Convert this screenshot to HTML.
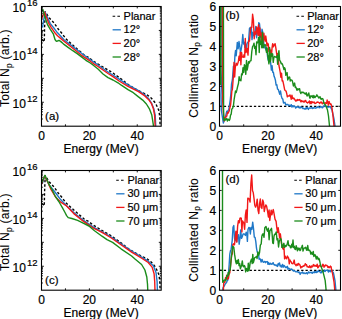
<!DOCTYPE html>
<html><head><meta charset="utf-8"><style>
html,body{margin:0;padding:0;background:#fff;}
body{width:342px;height:319px;overflow:hidden;font-family:"Liberation Sans",sans-serif;}
svg{position:absolute;left:0;top:0;display:block;}
</style></head><body>
<svg width="342" height="319" viewBox="0 0 342 319">
<defs>
<clipPath id="ca"><rect x="41.5" y="6.5" width="119.69999999999999" height="119.7"/></clipPath>
<clipPath id="cb"><rect x="219.5" y="6.5" width="121.0" height="119.7"/></clipPath>
<clipPath id="cc"><rect x="41.5" y="170.5" width="119.69999999999999" height="119.69999999999999"/></clipPath>
<clipPath id="cd"><rect x="219.5" y="170.5" width="121.0" height="119.69999999999999"/></clipPath>
</defs>
<polyline points="42,39.4 44.3,41.9 44.5,30 45.2,11.8 49.4,18 54.1,23 58.4,29.3 61.6,33 65.8,38.6 71,43.5 77.2,49 84.2,55 89.4,58 93,61 98,64 103,67 108,70 113,73 117.1,76 121.3,79 129,85.2 134.3,88.4 140.6,91.7 147,94.8 151.2,98 155.4,103 157.6,107.5 158.8,110.5 159.7,116 160.1,125.2 160.2,140" fill="none" stroke="#000" stroke-width="1.4" stroke-linejoin="round" stroke-dasharray="2.5,2.0" clip-path="url(#ca)"/>
<polyline points="42.5,27.6 45,12 47.5,17.4 50.3,23.6 54.5,28.8 57.5,32.8 60.6,36 64,39.8 72.8,46.6 81.5,53.2 90.3,59.7 98,65 108,72 118.1,78.4 121.3,80.6 128,84.9 138.5,90.6 144.8,94.8 149,99 151.5,103 153.8,108.8 155.2,115.1 155.7,125.2 155.8,140" fill="none" stroke="#1f78c8" stroke-width="1.4" stroke-linejoin="round" clip-path="url(#ca)"/>
<polyline points="41.9,18.2 44.2,12.6 44.7,12.2 46.6,17.4 48.5,22.8 51.3,27.6 55.3,33.3 57.5,35.8 60.6,38.4 64,41.3 72.8,48.3 81.5,55.3 90.3,61.2 93,63.3 98,66.5 103,70 108,73.5 113,76.6 119.1,81 128,86.4 138.5,91.7 144.8,95.9 149,100.1 151.3,103.3 153.4,108.8 154.6,115.1 155.1,125.2 155.2,140" fill="none" stroke="#f21818" stroke-width="1.4" stroke-linejoin="round" clip-path="url(#ca)"/>
<polyline points="41.9,10.8 42.9,9.6 44.2,14.2 45.6,19 47.5,24.6 50.3,29.4 53.3,33.8 55,39.5 56.2,41.2 57.5,41 59,40.4 60.6,41.4 62,42.6 64,44.4 68.4,47.6 72.8,50.7 77.2,53.6 81.5,56.9 85.9,60.3 90.3,63 93,65 98,69 103,74 108,77.6 113,80 118,82.8 121.3,85.2 128,89.6 133.3,92.7 138.5,96.9 142.7,100.1 146.4,104 149.4,108.8 151.8,115.1 153.4,125.2 153.5,140" fill="none" stroke="#1b8c1b" stroke-width="1.4" stroke-linejoin="round" clip-path="url(#ca)"/>
<polyline points="42,203.4 44.3,205.9 44.5,194 45.2,175.8 49.4,182 54.1,187 58.4,193.3 61.6,197 65.8,202.6 71,207.5 77.2,213 84.2,219 89.4,222 93,225 98,228 103,231 108,234 113,237 117.1,240 121.3,243 129,249.2 134.3,252.4 140.6,255.7 147,258.8 151.2,262 155.4,267 157.6,271.5 158.8,274.5 159.7,280 160.1,289.2 160.2,304" fill="none" stroke="#000" stroke-width="1.4" stroke-linejoin="round" stroke-dasharray="2.5,2.0" clip-path="url(#cc)"/>
<polyline points="42.3,183.5 44.7,176.2 47.2,181 49.4,185.2 55.7,193 60.6,199.6 66.3,205.6 73.8,212.6 83.2,220.2 92.6,226.6 102,231.9 111.4,237 121,243.9 131.6,251 142.1,257.4 148.2,261.2 153.4,265.8 156,272.4 157.1,281.6 157.4,291 157.5,300" fill="none" stroke="#1f78c8" stroke-width="1.4" stroke-linejoin="round" clip-path="url(#cc)"/>
<polyline points="41.5,184.3 44.6,176 47.2,180.8 51,189.5 55.7,197.2 60.4,201.8 66.6,206 73.8,213.6 83.2,221.2 92.6,227.6 102,232.4 111.4,238 121,244.8 131.6,252.1 142.1,258.5 148.2,262.5 152.1,267.1 154.1,273.7 154.7,281.6 155,291 155.1,300" fill="none" stroke="#f21818" stroke-width="1.4" stroke-linejoin="round" clip-path="url(#cc)"/>
<polyline points="41.8,182.4 45,175.3 47.2,180.5 49.3,184.9 52,189.5 55,195.8 58.8,201.5 62.5,207.8 65,212.5 66.6,215.6 68.2,217.6 71.9,218.5 77.6,220.4 83.2,223.2 88.9,226 94.5,230.7 102,236.2 107,239.6 112.6,242.4 121,248.8 131.6,256 135,259 141.6,264.5 144.9,270 146.8,277 147.5,284 147.8,291 147.9,300" fill="none" stroke="#1b8c1b" stroke-width="1.4" stroke-linejoin="round" clip-path="url(#cc)"/>
<line x1="219.5" y1="106.3" x2="340.5" y2="106.3" stroke="#000" stroke-width="1.3" stroke-dasharray="2.3,2.0"/>
<polyline points="221.9,-5 222,70 221,95 221.3,110 222,114.49 222.7,119.03 223.4,123.02 224.08,120.58 224.76,118.21 225.44,117.03 226.12,113.9 226.8,111.2 227.43,111.89 228.07,110.42 228.7,109.82 229.6,104.29 230.23,100.01 230.87,93.85 231.5,84.24 232.4,79.68 233.4,66.2 234.3,67.95 234.93,55.35 235.57,50.35 236.2,55.7 237.3,42.37 238.15,48.75 239,41.49 239.75,46.25 240.5,52.54 241.25,49.04 242,43.88 242.8,34.56 243.6,44.06 244.23,42.2 244.87,47.29 245.5,44.49 246.25,50.64 247,43.68 247.75,42.2 248.5,41.75 249.5,28.24 250.7,27.19 251.35,27.82 252,39.67 253,32.29 253.67,35.65 254.33,35.61 255,31.77 255.8,26.47 256.6,37.72 257.3,29.97 258,33.14 258.75,22.61 259.5,23.63 260.5,33.5 261.25,37.76 262,29.3 262.65,31.67 263.3,39.81 264.5,47.73 265.25,47.6 266,50.14 266.75,47.79 267.5,56.2 268.2,60.14 268.9,57.24 269.55,55.32 270.2,58.63 271.4,70.09 272.07,65.64 272.73,72.3 273.4,72.32 274.08,76.31 274.76,77.89 275.44,80.29 276.12,85.08 276.8,84.69 277.53,89.1 278.27,89.4 279,91.78 279.77,94.2 280.53,91.05 281.3,95.95 282.03,98.35 282.77,99 283.5,102.96 284.27,102.92 285.03,102.32 285.8,105.14 286.53,104.33 287.27,104.44 288,104.49 288.66,105.77 289.31,105.19 289.97,105.35 290.63,105.89 291.29,104.69 291.94,106.94 292.6,105.73 293.21,106.78 293.82,105.91 294.43,106.12 295.04,106.59 295.65,108.13 296.25,107.49 296.86,106.79 297.47,107.1 298.08,106.66 298.69,107.47 299.3,107.24 299.91,108.13 300.52,106.92 301.13,107.64 301.74,107.4 302.35,107.56 302.95,108.54 303.56,108.25 304.17,108.62 304.78,109.08 305.39,109.14 306,107.64 306.6,108.78 307.2,107.28 307.8,108.28 308.4,109.46 309,108.08 309.6,107.91 310.2,108.19 310.8,108.03 311.4,107.98 312,107.43 312.6,108.52 313.2,108.34 313.8,107.59 314.4,107.86 315,108.01 315.6,108.18 316.2,107.71 316.8,107.83 317.4,107.17 318,106.6 318.6,106.89 319.2,107.77 319.8,107.68 320.4,107.09 321,106.58 321.6,107.06 322.2,107.84 322.8,107.58 323.4,106.24 324,106.57 324.62,105.69 325.25,105.88 325.88,106.63 326.5,106.51 327.12,107 327.75,107.12 328.38,106.86 329,107.06 329.75,106.56 330.5,106.78 331.25,108.69 332,110 332.67,113 333.33,116 334,119 335,126 335.3,140" fill="none" stroke="#1f78c8" stroke-width="1.4" stroke-linejoin="round" clip-path="url(#cb)"/>
<polyline points="222.3,-5 222.6,100 223.3,112 224.3,120.96 224.93,117.86 225.55,117.62 226.18,116.29 226.8,116.04 227.43,112.43 228.05,113.15 228.68,111.91 229.3,110.59 229.95,107.45 230.6,104.72 231.2,99.22 231.8,91.36 232.4,89.32 233.4,75.95 234.03,62.34 234.67,76.96 235.3,67.29 236.2,63.25 237.1,65.17 237.73,63.67 238.37,61.56 239,56.26 239.63,60.34 240.27,52.27 240.9,64.82 241.53,52.46 242.17,56.6 242.8,57.08 243.42,57.29 244.03,54.59 244.65,57.11 245.27,38.43 245.88,52.64 246.5,51.73 247.25,48.53 248,55.13 248.75,40.66 249.5,41.07 250.7,27.87 251.8,27.36 252.6,14.3 253.4,19.73 254.2,38.79 254.8,33.19 255.4,31.72 256,34.17 256.67,27.07 257.33,28.78 258,35.29 258.62,24.82 259.25,36.12 259.88,27.99 260.5,36.96 261.25,33 262,47.2 262.62,44.68 263.25,38.63 263.88,33.29 264.5,38.94 265.13,41.17 265.77,36.02 266.4,40.68 267,45.82 267.6,43.18 268.25,44.17 268.9,51.48 269.53,48.38 270.17,53.74 270.8,50.29 271.43,56.41 272.05,47.95 272.68,43.72 273.3,46.88 274.5,44.4 275.15,43.83 275.8,47.53 277,55.97 277.7,53.73 278.9,65.46 279.55,68.62 280.2,72.13 280.86,77.25 281.52,73.18 282.18,81.04 282.84,80.78 283.5,83.87 284.7,89.95 285.36,90.56 286.02,91.03 286.68,93.43 287.34,96.9 288,95.93 288.66,96.02 289.31,95.98 289.97,94.91 290.63,96.84 291.29,99.21 291.94,95.18 292.6,98.32 293.2,98.77 293.8,98.08 294.4,98.93 295,99.87 295.6,101.05 296.2,100.18 296.8,100.8 297.4,99.5 298,100.28 298.6,99.78 299.2,100.14 299.8,99.55 300.4,100.99 301,102 301.6,100.58 302.2,101.11 302.8,101.6 303.4,101.12 304,102.15 304.6,101.6 305.2,100.35 305.8,100.61 306.4,102.4 307,102.43 307.6,102.98 308.2,102.31 308.8,102.39 309.4,100.9 310,103.69 310.6,101.75 311.21,103.5 311.81,101.59 312.42,102.02 313.03,102.76 313.63,102.26 314.24,102.03 314.85,103.46 315.45,103.28 316.06,103.04 316.67,102.41 317.27,101.99 317.88,102.32 318.49,102.29 319.09,102.74 319.7,103.46 320.32,102.61 320.94,102.04 321.56,102.18 322.18,103.83 322.8,102.83 323.42,102.87 324.04,102.89 324.66,103.15 325.28,102.73 325.9,103.62 326.52,103.28 327.14,100.06 327.76,102.41 328.38,105.11 329,101.36 329.67,103.09 330.33,104.26 331,104 332,108 333,116 334,126 334.3,140" fill="none" stroke="#f21818" stroke-width="1.4" stroke-linejoin="round" clip-path="url(#cb)"/>
<polyline points="220.7,85 220.7,-5 221.38,-5 222.05,-5 222.72,-5 223.4,-5 223.6,110 223.8,120.04 224.4,120.39 225,118.94 225.6,120.02 226.2,118.81 226.8,118.54 227.43,120.99 228.05,119.33 228.68,119.27 229.3,120.41 229.93,118.96 230.55,115.2 231.18,114.14 231.8,109.17 232.6,108.2 233.4,105.9 234.1,99.73 234.8,95.27 235.5,90.92 236.17,92.59 236.83,90.13 237.5,87 238.5,83.26 239.1,76.74 239.7,80.2 240.3,80.14 240.9,80.82 241.6,73.93 242.3,74.7 243,67.74 243.7,72.51 244.4,64.76 245.1,66.28 245.8,74.33 246.5,60.54 247.2,69.97 247.9,66.23 248.6,61.63 249.3,63.01 250.15,60.81 251,60.57 251.8,51.49 252.6,46.41 253.3,45.6 254,43.18 254.67,48.38 255.33,46.52 256,54.71 256.67,41.89 257.33,43 258,41.73 258.62,37.45 259.25,52.43 259.88,36.27 260.5,44.24 261.17,41.46 261.83,47.78 262.5,32.25 263.25,47.87 264,45.26 265,44.72 265.7,45.03 266.4,52.2 267.03,48.1 267.67,54.64 268.3,58.83 268.93,63.9 269.57,47.48 270.2,61.72 270.8,59.22 271.4,53.52 272,56.14 272.62,53.83 273.25,62.33 273.88,57.51 274.5,56.49 275.12,56.73 275.75,57.1 276.38,57.45 277,55.78 277.65,64.31 278.3,54.33 278.95,50.69 279.6,60.19 280.4,61.31 281.2,63.7 282,63.54 282.65,64.83 283.3,67.01 283.95,69.45 284.6,67.7 285.23,69.34 285.85,75.31 286.48,74.04 287.1,72.65 287.74,80 288.38,78.32 289.02,77.04 289.66,77.22 290.3,81.02 290.92,79.77 291.54,80.11 292.15,80.43 292.77,82.51 293.39,85.97 294.01,84.08 294.63,83.11 295.25,87.36 295.86,87.07 296.48,89.06 297.1,90.35 297.72,88.64 298.34,89.19 298.95,89.85 299.57,88.64 300.19,91.99 300.81,93.59 301.43,92.23 302.05,92.11 302.66,92.59 303.28,92.31 303.9,92.79 304.51,93.68 305.12,93.3 305.73,94.18 306.34,92.8 306.95,95.87 307.55,95.71 308.16,94.27 308.77,92.94 309.38,96.44 309.99,98.26 310.6,95.99 311.23,96.24 311.86,96.02 312.49,97.6 313.11,95.34 313.74,97.86 314.37,95.98 315,97.57 315.62,96.49 316.25,96.29 316.88,94.79 317.5,96 318.12,96.71 318.75,98.05 319.38,97.66 320,96.63 320.6,98.39 321.2,99.44 321.8,98.54 322.4,98.64 323,99.11 324,103.51 324.67,104.22 325.33,104.81 326,106 326.75,108 327.5,110 328.5,116 329.5,126 329.8,140" fill="none" stroke="#1b8c1b" stroke-width="1.4" stroke-linejoin="round" clip-path="url(#cb)"/>
<line x1="219.5" y1="270.3" x2="340.5" y2="270.3" stroke="#000" stroke-width="1.3" stroke-dasharray="2.3,2.0"/>
<polyline points="222.6,300 222.9,288 223.67,286.74 224.43,285.66 225.2,283.91 225.87,283.19 226.53,282.56 227.2,280.81 227.85,280.09 228.5,273.34 229.2,264.17 229.8,254.24 230.45,250.8 231.1,249.43 232.2,240.69 233,227.31 233.8,225.59 234.5,238.38 235.2,240.77 236,232.02 236.8,241.89 237.6,236.27 238.4,234.74 239.15,244.21 239.9,239.02 240.7,229.96 241.5,238.36 242.3,236.72 243.1,233.86 243.85,233.97 244.6,234.26 245.4,235.4 246.2,232.13 246.8,233.98 247.4,241.37 248,229.5 248.8,227.47 249.6,227.91 250.35,233.95 251.1,227.35 251.9,229.38 252.7,222.09 253.5,228.28 254.3,237.1 255.05,237.48 255.8,241.67 256.5,248.05 257.2,251.83 257.9,253.28 258.5,253.98 259.1,259.19 259.7,258.69 260.3,259.06 261.15,262.15 262,259.35 262.7,261.29 263.4,262.31 264.1,261.74 264.8,261.38 265.43,262.68 266.07,261.77 266.7,261.87 267.33,261.56 267.97,264.33 268.6,262.44 269.23,264.41 269.87,263.74 270.5,263.24 271.15,264.27 271.79,263.98 272.44,263.95 273.08,262.61 273.73,264.11 274.38,264.99 275.02,264.71 275.67,265.28 276.32,265.83 276.96,264.95 277.61,266.45 278.25,263.45 278.9,264.69 279.51,262.91 280.11,266 280.72,265.58 281.33,267.12 281.94,265.6 282.54,264.44 283.15,267.34 283.76,265.42 284.36,265.69 284.97,266.76 285.58,267.59 286.19,266.91 286.79,267.64 287.4,266.29 288.01,269.25 288.61,268.19 289.22,268.6 289.83,269.2 290.44,269.18 291.04,269.47 291.65,268.96 292.26,269.79 292.86,270.44 293.47,271.1 294.08,270.61 294.69,271.02 295.29,271.44 295.9,271.86 296.5,271.74 297.1,271.56 297.7,271.5 298.3,272.63 298.9,272.22 299.5,272.16 300.1,274.42 300.7,272.91 301.3,273 301.9,272.67 302.5,272.04 303.1,273.5 303.7,272.84 304.3,273.03 304.91,273.57 305.51,273.49 306.12,272.94 306.73,272.73 307.34,273.95 307.94,272.93 308.55,271.86 309.16,272.9 309.76,272.45 310.37,272.31 310.98,272.64 311.59,272.29 312.19,273.32 312.8,272.13 313.41,272.13 314.01,272.67 314.62,271.56 315.23,272.52 315.84,271.82 316.44,272.57 317.05,271.27 317.66,272.03 318.26,270.74 318.87,271.44 319.48,271.7 320.09,271.97 320.69,272.86 321.3,272.75 321.95,270.68 322.59,270.96 323.24,272.13 323.88,271.54 324.53,270.32 325.18,271.4 325.82,270.3 326.47,270.39 327.12,270.05 327.76,270.59 328.41,272.07 329.05,270.82 329.7,270.43 330.3,271.79 330.9,270.16 331.5,270.24 332.13,271 332.77,271.89 333.4,272.6 334.2,276.65 335,280.7 335.8,289 336,300" fill="none" stroke="#1f78c8" stroke-width="1.4" stroke-linejoin="round" clip-path="url(#cd)"/>
<polyline points="223,300 223.7,283.26 224.3,281.88 224.9,282.18 225.5,277.82 226.1,278.92 226.7,275.15 227.3,279.27 227.9,277.12 228.5,278.54 229.15,272.9 229.8,273 231,261.11 231.63,255.27 232.27,253.98 232.9,244.49 233.7,243.7 234.5,244.78 235.25,237.71 236,231.19 236.8,242.07 237.6,226.33 238.4,220.7 239.2,222.9 239.95,218.06 240.7,217.83 241.3,218.28 241.9,231.89 242.5,220.88 243.1,221.99 243.87,223.23 244.63,229.21 245.4,215.04 246.2,209.84 247,222.37 247.8,198.16 248.6,198.39 249.35,199.46 250.1,202.06 250.9,183.63 251.7,174.97 252.5,190.45 253.25,192.61 254,198.3 254.8,205.16 255.6,207.12 256.4,205.11 257.2,199.14 258,210.1 258.8,213.52 259.55,203.81 260.3,199.04 261.1,207.32 261.9,208.39 262.7,200.05 263.5,202.2 264.25,211.5 265,207.52 265.8,204.86 266.6,206.06 267.5,210.86 268.4,216.99 269.1,210 269.8,220.53 270.5,214.72 271.2,210.21 271.9,214.86 272.6,211.62 273.3,209.56 274.15,214.03 275,219.07 276.1,221.32 276.8,227.58 277.5,232.51 278.2,227.76 278.9,232.59 279.62,237.94 280.35,233.83 281.07,239.53 281.8,245.53 282.5,247.67 283.2,249.33 283.9,246.39 284.6,258.89 285.3,256.21 286,258.03 286.7,258.85 287.4,256.08 288.02,257.18 288.64,258.12 289.27,263.9 289.89,259.84 290.51,261.26 291.13,261.73 291.76,263.36 292.38,263.69 293,263.83 293.61,262.12 294.21,260.05 294.82,264.23 295.43,264.53 296.04,265.82 296.64,264.45 297.25,264.06 297.86,265.38 298.46,263.41 299.07,264.17 299.68,264.4 300.29,265.94 300.89,267.95 301.5,266.76 302.13,267.13 302.76,266.23 303.38,266.27 304.01,265.56 304.64,265.73 305.27,263.67 305.89,264.86 306.52,264.78 307.15,266.78 307.78,266.62 308.41,267.05 309.03,267.43 309.66,265.72 310.29,266.95 310.92,267.75 311.54,265.99 312.17,266.96 312.8,265.86 313.43,264.59 314.06,266.11 314.68,265.28 315.31,266.1 315.94,265.59 316.57,266.28 317.19,264.13 317.82,267.82 318.45,267.19 319.08,265.69 319.71,265.2 320.33,266 320.96,266.59 321.59,266.37 322.22,266.35 322.84,264.28 323.47,265.01 324.1,267.18 324.74,266.31 325.37,264.96 326.01,265.63 326.65,265.3 327.28,265.77 327.92,267.53 328.55,266.6 329.19,267.66 329.83,267.11 330.46,266.11 331.1,266.79 331.8,271.03 332.5,273.4 333.25,277.6 334,281.8 334.8,290.3 335,300" fill="none" stroke="#f21818" stroke-width="1.4" stroke-linejoin="round" clip-path="url(#cd)"/>
<polyline points="222.5,160 222.5,270 222.7,282.3 223.3,281.87 223.9,280.49 224.5,280.22 225.12,279.96 225.75,280.48 226.38,278.3 227,275.43 227.6,276.32 228.2,272.38 228.8,274.73 229.4,270.52 230.2,270 231,260.87 231.85,253.04 232.7,246.32 233.8,247.37 234.6,254.39 235.7,261.72 236.4,263.83 237.05,260.42 237.7,263.25 238.37,259.57 239.03,265.6 239.7,263.62 240.35,268.74 241,266.98 241.65,264.92 242.3,260.95 242.95,266 243.6,266.67 244.25,265.5 244.9,266.44 245.7,271.93 246.5,268.5 247.1,269.73 247.7,271.23 248.3,263.16 248.9,270.47 249.56,267.57 250.22,262.46 250.88,260.74 251.54,259.11 252.2,263.54 252.8,254.34 253.4,262.68 254,260.35 254.6,257.79 255.22,257.43 255.85,256.98 256.48,256.52 257.1,258.53 257.9,251.87 258.7,255.16 259.5,252.89 260.35,245.11 261.2,243.91 261.85,236.14 262.5,234.21 263.27,233.87 264.03,237.27 264.8,227.81 266,226.44 266.8,229.62 267.6,231.32 268.37,228.29 269.13,239.71 269.9,230.67 270.7,229.8 271.5,228.33 272.12,233.99 272.74,242.93 273.36,243.59 273.98,236.31 274.6,234.3 275.4,234.26 276.2,231.92 277,239.86 277.8,238.62 278.55,246.99 279.3,241.14 279.95,239.87 280.6,238.46 281.25,239.73 281.9,247.33 282.55,247.48 283.2,244.61 283.9,243.26 284.6,247.41 285.3,245.41 286,246.47 286.7,245.46 287.4,243.14 288.02,240.78 288.64,245.53 289.27,245.48 289.89,245.74 290.51,247.7 291.13,247.7 291.76,244.17 292.38,246.93 293,240.03 293.63,247.61 294.27,246.32 294.9,249.19 295.53,249.5 296.17,245.68 296.8,247.9 297.43,250.88 298.07,247.99 298.7,249.64 299.31,248.35 299.93,250.61 300.54,250.06 301.16,247.94 301.77,246.81 302.39,245.3 303,251.11 303.7,248.51 304.4,247.91 305.1,248.09 305.8,247.2 306.5,250.09 307.11,250.33 307.73,245.52 308.34,249.88 308.95,250.48 309.56,250.14 310.17,251.22 310.79,254.04 311.4,252.29 312.01,254.14 312.62,254.41 313.24,251.34 313.85,256.53 314.46,254.9 315.07,254.8 315.69,256.83 316.3,259.14 316.94,256.33 317.58,257.47 318.22,259.65 318.86,258.34 319.5,260.08 320.16,263.21 320.82,265.69 321.48,267.43 322.14,269.47 322.8,271.42 323.6,274.12 324.4,277.42 325.2,280.7 326,289 326.2,300" fill="none" stroke="#1b8c1b" stroke-width="1.4" stroke-linejoin="round" clip-path="url(#cd)"/>
<path d="M65.44 126.2v-1.9 M65.44 6.5v1.9 M89.38 126.2v-1.9 M89.38 6.5v1.9 M113.32 126.2v-1.9 M113.32 6.5v1.9 M137.26 126.2v-1.9 M137.26 6.5v1.9 M243.7 126.2v-1.9 M243.7 6.5v1.9 M267.9 126.2v-1.9 M267.9 6.5v1.9 M292.1 126.2v-1.9 M292.1 6.5v1.9 M316.3 126.2v-1.9 M316.3 6.5v1.9 M65.44 290.2v-1.9 M65.44 170.5v1.9 M89.38 290.2v-1.9 M89.38 170.5v1.9 M113.32 290.2v-1.9 M113.32 170.5v1.9 M137.26 290.2v-1.9 M137.26 170.5v1.9 M243.7 290.2v-1.9 M243.7 170.5v1.9 M267.9 290.2v-1.9 M267.9 170.5v1.9 M292.1 290.2v-1.9 M292.1 170.5v1.9 M316.3 290.2v-1.9 M316.3 170.5v1.9 M41.5 118.99h1.4 M161.2 118.99h-1.4 M41.5 114.78h1.4 M161.2 114.78h-1.4 M41.5 111.79h1.4 M161.2 111.79h-1.4 M41.5 109.47h1.4 M161.2 109.47h-1.4 M41.5 107.57h1.4 M161.2 107.57h-1.4 M41.5 105.97h1.4 M161.2 105.97h-1.4 M41.5 104.58h1.4 M161.2 104.58h-1.4 M41.5 103.36h1.4 M161.2 103.36h-1.4 M41.5 102.26h2.4 M161.2 102.26h-2.4 M41.5 95.05h1.4 M161.2 95.05h-1.4 M41.5 90.84h1.4 M161.2 90.84h-1.4 M41.5 87.85h1.4 M161.2 87.85h-1.4 M41.5 85.53h1.4 M161.2 85.53h-1.4 M41.5 83.63h1.4 M161.2 83.63h-1.4 M41.5 82.03h1.4 M161.2 82.03h-1.4 M41.5 80.64h1.4 M161.2 80.64h-1.4 M41.5 79.42h1.4 M161.2 79.42h-1.4 M41.5 78.32h2.4 M161.2 78.32h-2.4 M41.5 71.11h1.4 M161.2 71.11h-1.4 M41.5 66.9h1.4 M161.2 66.9h-1.4 M41.5 63.91h1.4 M161.2 63.91h-1.4 M41.5 61.59h1.4 M161.2 61.59h-1.4 M41.5 59.69h1.4 M161.2 59.69h-1.4 M41.5 58.09h1.4 M161.2 58.09h-1.4 M41.5 56.7h1.4 M161.2 56.7h-1.4 M41.5 55.48h1.4 M161.2 55.48h-1.4 M41.5 54.38h2.4 M161.2 54.38h-2.4 M41.5 47.17h1.4 M161.2 47.17h-1.4 M41.5 42.96h1.4 M161.2 42.96h-1.4 M41.5 39.97h1.4 M161.2 39.97h-1.4 M41.5 37.65h1.4 M161.2 37.65h-1.4 M41.5 35.75h1.4 M161.2 35.75h-1.4 M41.5 34.15h1.4 M161.2 34.15h-1.4 M41.5 32.76h1.4 M161.2 32.76h-1.4 M41.5 31.54h1.4 M161.2 31.54h-1.4 M41.5 30.44h2.4 M161.2 30.44h-2.4 M41.5 23.23h1.4 M161.2 23.23h-1.4 M41.5 19.02h1.4 M161.2 19.02h-1.4 M41.5 16.03h1.4 M161.2 16.03h-1.4 M41.5 13.71h1.4 M161.2 13.71h-1.4 M41.5 11.81h1.4 M161.2 11.81h-1.4 M41.5 10.21h1.4 M161.2 10.21h-1.4 M41.5 8.82h1.4 M161.2 8.82h-1.4 M41.5 7.6h1.4 M161.2 7.6h-1.4 M41.5 282.99h1.4 M161.2 282.99h-1.4 M41.5 278.78h1.4 M161.2 278.78h-1.4 M41.5 275.79h1.4 M161.2 275.79h-1.4 M41.5 273.47h1.4 M161.2 273.47h-1.4 M41.5 271.57h1.4 M161.2 271.57h-1.4 M41.5 269.97h1.4 M161.2 269.97h-1.4 M41.5 268.58h1.4 M161.2 268.58h-1.4 M41.5 267.36h1.4 M161.2 267.36h-1.4 M41.5 266.26h2.4 M161.2 266.26h-2.4 M41.5 259.05h1.4 M161.2 259.05h-1.4 M41.5 254.84h1.4 M161.2 254.84h-1.4 M41.5 251.85h1.4 M161.2 251.85h-1.4 M41.5 249.53h1.4 M161.2 249.53h-1.4 M41.5 247.63h1.4 M161.2 247.63h-1.4 M41.5 246.03h1.4 M161.2 246.03h-1.4 M41.5 244.64h1.4 M161.2 244.64h-1.4 M41.5 243.42h1.4 M161.2 243.42h-1.4 M41.5 242.32h2.4 M161.2 242.32h-2.4 M41.5 235.11h1.4 M161.2 235.11h-1.4 M41.5 230.9h1.4 M161.2 230.9h-1.4 M41.5 227.91h1.4 M161.2 227.91h-1.4 M41.5 225.59h1.4 M161.2 225.59h-1.4 M41.5 223.69h1.4 M161.2 223.69h-1.4 M41.5 222.09h1.4 M161.2 222.09h-1.4 M41.5 220.7h1.4 M161.2 220.7h-1.4 M41.5 219.48h1.4 M161.2 219.48h-1.4 M41.5 218.38h2.4 M161.2 218.38h-2.4 M41.5 211.17h1.4 M161.2 211.17h-1.4 M41.5 206.96h1.4 M161.2 206.96h-1.4 M41.5 203.97h1.4 M161.2 203.97h-1.4 M41.5 201.65h1.4 M161.2 201.65h-1.4 M41.5 199.75h1.4 M161.2 199.75h-1.4 M41.5 198.15h1.4 M161.2 198.15h-1.4 M41.5 196.76h1.4 M161.2 196.76h-1.4 M41.5 195.54h1.4 M161.2 195.54h-1.4 M41.5 194.44h2.4 M161.2 194.44h-2.4 M41.5 187.23h1.4 M161.2 187.23h-1.4 M41.5 183.02h1.4 M161.2 183.02h-1.4 M41.5 180.03h1.4 M161.2 180.03h-1.4 M41.5 177.71h1.4 M161.2 177.71h-1.4 M41.5 175.81h1.4 M161.2 175.81h-1.4 M41.5 174.21h1.4 M161.2 174.21h-1.4 M41.5 172.82h1.4 M161.2 172.82h-1.4 M41.5 171.6h1.4 M161.2 171.6h-1.4 M219.5 106.25h2.2 M340.5 106.25h-2.2 M219.5 86.3h2.2 M340.5 86.3h-2.2 M219.5 66.35h2.2 M340.5 66.35h-2.2 M219.5 46.4h2.2 M340.5 46.4h-2.2 M219.5 26.45h2.2 M340.5 26.45h-2.2 M219.5 270.25h2.2 M340.5 270.25h-2.2 M219.5 250.3h2.2 M340.5 250.3h-2.2 M219.5 230.35h2.2 M340.5 230.35h-2.2 M219.5 210.4h2.2 M340.5 210.4h-2.2 M219.5 190.45h2.2 M340.5 190.45h-2.2" stroke="#000" stroke-width="0.9" fill="none"/>
<rect x="41.5" y="6.5" width="119.70" height="119.70" fill="none" stroke="#000" stroke-width="1.1"/>
<rect x="219.5" y="6.5" width="121.00" height="119.70" fill="none" stroke="#000" stroke-width="1.1"/>
<rect x="41.5" y="170.5" width="119.70" height="119.70" fill="none" stroke="#000" stroke-width="1.1"/>
<rect x="219.5" y="170.5" width="121.00" height="119.70" fill="none" stroke="#000" stroke-width="1.1"/>
<g font-family="Liberation Sans, sans-serif" fill="#000" stroke="#000" stroke-width="0.2"><text x="12.6" y="12.3" font-size="12">10<tspan font-size="9.5" dx="1.0" dy="-6.2">16</tspan></text>
<text x="12.6" y="60" font-size="12">10<tspan font-size="9.5" dx="1.0" dy="-6.2">14</tspan></text>
<text x="12.6" y="108.2" font-size="12">10<tspan font-size="9.5" dx="1.0" dy="-6.2">12</tspan></text>
<text x="41.5" y="139.5" font-size="12" text-anchor="middle" >0</text>
<text x="89.38" y="139.5" font-size="12" text-anchor="middle" >20</text>
<text x="137.26" y="139.5" font-size="12" text-anchor="middle" >40</text>
<text x="101.05" y="153.4" font-size="12" text-anchor="middle" textLength="75.2" lengthAdjust="spacing">Energy (MeV)</text>
<text x="219.5" y="139.5" font-size="12" text-anchor="middle" >0</text>
<text x="267.9" y="139.5" font-size="12" text-anchor="middle" >20</text>
<text x="316.3" y="139.5" font-size="12" text-anchor="middle" >40</text>
<text x="279.7" y="153.4" font-size="12" text-anchor="middle" textLength="75.2" lengthAdjust="spacing">Energy (MeV)</text>
<text x="216.3" y="130.5" font-size="12" text-anchor="end" >0</text>
<text x="216.3" y="110.55" font-size="12" text-anchor="end" >1</text>
<text x="216.3" y="90.6" font-size="12" text-anchor="end" >2</text>
<text x="216.3" y="70.65" font-size="12" text-anchor="end" >3</text>
<text x="216.3" y="50.7" font-size="12" text-anchor="end" >4</text>
<text x="216.3" y="30.75" font-size="12" text-anchor="end" >5</text>
<text x="216.3" y="10.8" font-size="12" text-anchor="end" >6</text>
<text transform="translate(9.0,68.3) rotate(-90)" font-size="12" text-anchor="middle" textLength="77.5" lengthAdjust="spacing" stroke-width="0.08">Total N<tspan font-size="8.5" dy="2.6">p</tspan><tspan dy="-2.6"> (arb.)</tspan></text>
<text transform="translate(197.6,66) rotate(-90)" font-size="12" text-anchor="middle" textLength="103.5" lengthAdjust="spacing" stroke-width="0.08">Collimated N<tspan font-size="8.5" dy="2.6">p</tspan><tspan dy="-2.6"> ratio</tspan></text>
<text x="12.6" y="176.3" font-size="12">10<tspan font-size="9.5" dx="1.0" dy="-6.2">16</tspan></text>
<text x="12.6" y="224" font-size="12">10<tspan font-size="9.5" dx="1.0" dy="-6.2">14</tspan></text>
<text x="12.6" y="272.2" font-size="12">10<tspan font-size="9.5" dx="1.0" dy="-6.2">12</tspan></text>
<text x="41.5" y="303.5" font-size="12" text-anchor="middle" >0</text>
<text x="89.38" y="303.5" font-size="12" text-anchor="middle" >20</text>
<text x="137.26" y="303.5" font-size="12" text-anchor="middle" >40</text>
<text x="101.05" y="316.8" font-size="12" text-anchor="middle" textLength="75.2" lengthAdjust="spacing">Energy (MeV)</text>
<text x="219.5" y="303.5" font-size="12" text-anchor="middle" >0</text>
<text x="267.9" y="303.5" font-size="12" text-anchor="middle" >20</text>
<text x="316.3" y="303.5" font-size="12" text-anchor="middle" >40</text>
<text x="279.7" y="316.8" font-size="12" text-anchor="middle" textLength="75.2" lengthAdjust="spacing">Energy (MeV)</text>
<text x="216.3" y="294.5" font-size="12" text-anchor="end" >0</text>
<text x="216.3" y="274.55" font-size="12" text-anchor="end" >1</text>
<text x="216.3" y="254.6" font-size="12" text-anchor="end" >2</text>
<text x="216.3" y="234.65" font-size="12" text-anchor="end" >3</text>
<text x="216.3" y="214.7" font-size="12" text-anchor="end" >4</text>
<text x="216.3" y="194.75" font-size="12" text-anchor="end" >5</text>
<text x="216.3" y="174.8" font-size="12" text-anchor="end" >6</text>
<text transform="translate(9.0,232.3) rotate(-90)" font-size="12" text-anchor="middle" textLength="77.5" lengthAdjust="spacing" stroke-width="0.08">Total N<tspan font-size="8.5" dy="2.6">p</tspan><tspan dy="-2.6"> (arb.)</tspan></text>
<text transform="translate(197.6,230) rotate(-90)" font-size="12" text-anchor="middle" textLength="103.5" lengthAdjust="spacing" stroke-width="0.08">Collimated N<tspan font-size="8.5" dy="2.6">p</tspan><tspan dy="-2.6"> ratio</tspan></text>
<text x="45.1" y="120.1" font-size="11.5" text-anchor="start" >(a)</text>
<text x="225.5" y="19.3" font-size="11.5" text-anchor="start" >(b)</text>
<text x="45.1" y="284.1" font-size="11.5" text-anchor="start" >(c)</text>
<text x="225.5" y="183.3" font-size="11.5" text-anchor="start" >(d)</text>
<line x1="112.6" y1="16.2" x2="120.2" y2="16.2" stroke="#000" stroke-width="1.1" stroke-dasharray="2.6,2.2"/>
<text x="123.6" y="19.8" font-size="11">Planar</text>
<line x1="112.6" y1="29.8" x2="120.9" y2="29.8" stroke="#1f78c8" stroke-width="1.3"/>
<text x="123.6" y="33.4" font-size="11">12°</text>
<line x1="112.6" y1="43.4" x2="120.9" y2="43.4" stroke="#f21818" stroke-width="1.3"/>
<text x="123.6" y="47" font-size="11">20°</text>
<line x1="112.6" y1="57" x2="120.9" y2="57" stroke="#1b8c1b" stroke-width="1.3"/>
<text x="123.6" y="60.6" font-size="11">28°</text>
<line x1="296.5" y1="16.2" x2="304.1" y2="16.2" stroke="#000" stroke-width="1.1" stroke-dasharray="2.6,2.2"/>
<text x="307.2" y="19.8" font-size="11">Planar</text>
<line x1="296.5" y1="29.8" x2="304.8" y2="29.8" stroke="#1f78c8" stroke-width="1.3"/>
<text x="307.2" y="33.4" font-size="11">12°</text>
<line x1="296.5" y1="43.4" x2="304.8" y2="43.4" stroke="#f21818" stroke-width="1.3"/>
<text x="307.2" y="47" font-size="11">20°</text>
<line x1="296.5" y1="57" x2="304.8" y2="57" stroke="#1b8c1b" stroke-width="1.3"/>
<text x="307.2" y="60.6" font-size="11">28°</text>
<line x1="116.2" y1="180.2" x2="123.8" y2="180.2" stroke="#000" stroke-width="1.1" stroke-dasharray="2.6,2.2"/>
<text x="127.4" y="183.8" font-size="11">Planar</text>
<line x1="116.2" y1="193.8" x2="124.5" y2="193.8" stroke="#1f78c8" stroke-width="1.3"/>
<text x="127.4" y="197.4" font-size="11">30 μm</text>
<line x1="116.2" y1="207.4" x2="124.5" y2="207.4" stroke="#f21818" stroke-width="1.3"/>
<text x="127.4" y="211" font-size="11">50 μm</text>
<line x1="116.2" y1="221" x2="124.5" y2="221" stroke="#1b8c1b" stroke-width="1.3"/>
<text x="127.4" y="224.6" font-size="11">70 μm</text>
<line x1="294.3" y1="180.2" x2="301.9" y2="180.2" stroke="#000" stroke-width="1.1" stroke-dasharray="2.6,2.2"/>
<text x="305.3" y="183.8" font-size="11">Planar</text>
<line x1="294.3" y1="193.8" x2="302.6" y2="193.8" stroke="#1f78c8" stroke-width="1.3"/>
<text x="305.3" y="197.4" font-size="11">30 μm</text>
<line x1="294.3" y1="207.4" x2="302.6" y2="207.4" stroke="#f21818" stroke-width="1.3"/>
<text x="305.3" y="211" font-size="11">50 μm</text>
<line x1="294.3" y1="221" x2="302.6" y2="221" stroke="#1b8c1b" stroke-width="1.3"/>
<text x="305.3" y="224.6" font-size="11">70 μm</text></g>
</svg>
</body></html>
